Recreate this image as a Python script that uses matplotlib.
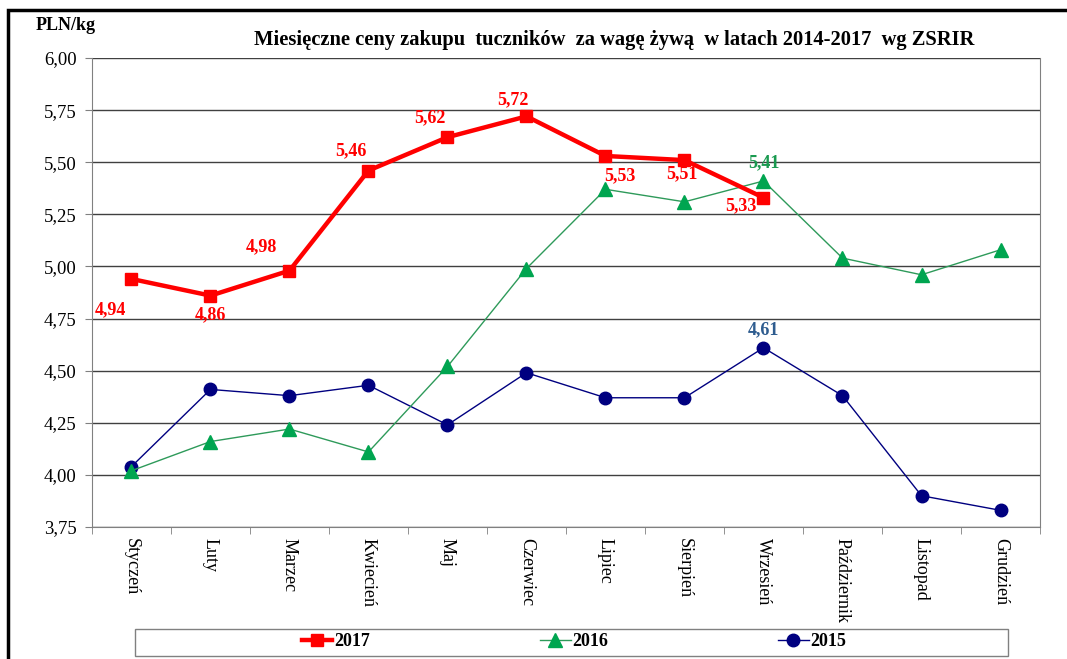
import matplotlib
matplotlib.use('Agg')
import matplotlib.pyplot as plt
from matplotlib.patches import Rectangle

months = ['Styczeń', 'Luty', 'Marzec', 'Kwiecień', 'Maj', 'Czerwiec', 'Lipiec',
          'Sierpień', 'Wrzesień', 'Październik', 'Listopad', 'Grudzień']
p2017 = [4.94, 4.86, 4.98, 5.46, 5.62, 5.72, 5.53, 5.51, 5.33]
p2016 = [4.02, 4.16, 4.22, 4.11, 4.52, 4.99, 5.37, 5.31, 5.41, 5.04, 4.96, 5.08]
p2015 = [4.04, 4.41, 4.38, 4.43, 4.24, 4.49, 4.37, 4.37, 4.61, 4.38, 3.90, 3.83]
yticks = [3.75, 4.00, 4.25, 4.50, 4.75, 5.00, 5.25, 5.50, 5.75, 6.00]

# label offsets (points) for 2017 values
off2017 = [(-15, -22), (0, -14), (-20, 17), (-13, 14), (-13, 14), (-10, 12), (10, -14), (-2, -10), (-16, -6)]

def fmt(v):
    return ('%.2f' % v).replace('.', ',')

plt.rcParams['font.family'] = ['Liberation Serif', 'DejaVu Serif']

fig = plt.figure(figsize=(10.67, 6.59), dpi=100)
ax = fig.add_axes([0.0862, 0.2003, 0.8885, 0.7117])

x = list(range(len(months)))
l17, = ax.plot(x[:len(p2017)], p2017, color='#ff0000', lw=3.2, marker='s', ms=8.5, label='2017', zorder=5)
l16, = ax.plot(x, p2016, color='#2e9a5a', lw=1.0, marker='^', ms=10, mfc='#00a550', mec='#00a550', label='2016', zorder=4)
l15, = ax.plot(x, p2015, color='#000080', lw=1.0, marker='o', ms=9, label='2015', zorder=3)

for i, v in enumerate(p2017):
    ax.annotate(fmt(v), (i, v), xytext=off2017[i], textcoords='offset points',
                ha='center', va='center', color='#ff0000', fontsize=13, fontweight='bold', zorder=6)
ax.annotate(fmt(p2016[8]), (8, p2016[8]), xytext=(0, 13), textcoords='offset points',
            ha='center', va='center', color='#1a9a50', fontsize=13, fontweight='bold')
ax.annotate(fmt(p2015[8]), (8, p2015[8]), xytext=(0, 13), textcoords='offset points',
            ha='center', va='center', color='#2e5c8f', fontsize=13, fontweight='bold')

ax.set_xlim(-0.5, len(months) - 0.5)
ax.set_ylim(3.75, 6.0)
ax.set_yticks(yticks)
ax.set_yticklabels([fmt(t) for t in yticks], fontsize=13.5)
ax.set_xticks(x)
ax.set_xticklabels(months, rotation=270, fontsize=13)
ax.set_xticks([i - 0.5 for i in range(len(months) + 1)], minor=True)
ax.tick_params(axis='x', which='major', length=0, pad=8)
ax.tick_params(axis='x', which='minor', length=5, color='#808080', direction='out')
ax.tick_params(axis='y', length=5, color='#808080', direction='out', pad=6)
ax.grid(axis='y', color='#404040', lw=1.0)
for s in ['left', 'bottom', 'right']:
    ax.spines[s].set_color('#808080')
ax.spines['top'].set_visible(False)

fig.text(0.033, 0.962, 'PLN/kg', fontsize=13, fontweight='bold', ha='left', va='center')
fig.text(0.576, 0.94, 'Miesięczne ceny zakupu  tuczników  za wagę żywą  w latach 2014-2017  wg ZSRIR',
         fontsize=14.8, fontweight='bold', ha='center', va='center')

# legend box and entries
fig.patches.append(Rectangle((0.1265, 0.0046), 0.818, 0.041, transform=fig.transFigure,
                             fill=False, edgecolor='#808080', lw=1.0))
fig.legend(handles=[l17, l16, l15], loc='center', bbox_to_anchor=(0.538, 0.026),
           ncol=3, frameon=False, prop={'weight': 'bold', 'size': 13},
           handlelength=1.7, handletextpad=0.1, columnspacing=9.4)

fig.patches.append(Rectangle((0.0075, -0.05), 1.1, 1.035, transform=fig.transFigure,
                             fill=False, edgecolor='black', lw=2.5))

fig.savefig('out.png', dpi=100)
